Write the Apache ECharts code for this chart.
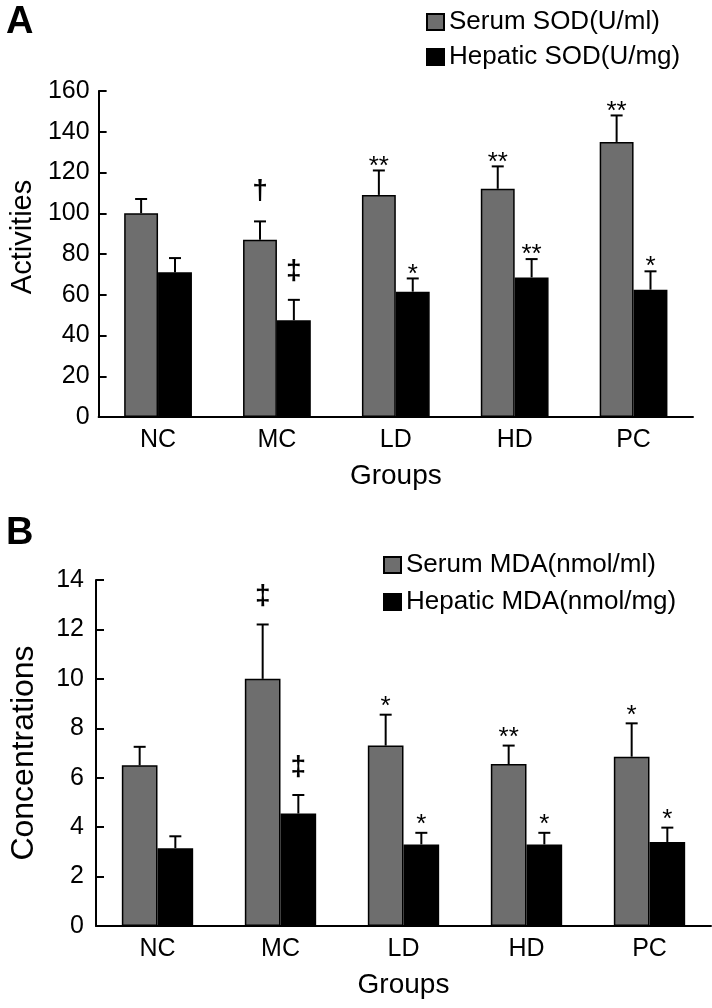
<!DOCTYPE html>
<html><head><meta charset="utf-8">
<script src="https://cdn.jsdelivr.net/npm/echarts@6/dist/echarts.min.js"></script>
<style>html,body{margin:0;padding:0;background:#fff}#c{width:712px;height:1008px}</style>
</head><body><div id="c"></div>
<script>
const groups = ['NC', 'MC', 'LD', 'HD', 'PC'];

const sodSerumName = 'Serum SOD(U/ml)';
const sodHepaticName = 'Hepatic SOD(U/mg)';
const sodSerum = [100, 87, 109, 112, 135];
const sodSerumSD = [7, 9, 12, 11, 13];
const sodHepatic = [71, 47.5, 61.5, 68.5, 62.5];
const sodHepaticSD = [7, 10, 6.5, 9, 9];
const sodSerumMarks = ['', '\u2020', '**', '**', '**'];
const sodHepaticMarks = ['', '\u2021', '*', '**', '*'];
const sodTicks = [0, 20, 40, 60, 80, 100, 120, 140, 160];

const mdaSerumName = 'Serum MDA(nmol/ml)';
const mdaHepaticName = 'Hepatic MDA(nmol/mg)';
const mdaSerum = [6.5, 10.0, 7.3, 6.55, 6.85];
const mdaSerumSD = [0.75, 2.2, 1.25, 0.75, 1.35];
const mdaHepatic = [3.15, 4.55, 3.3, 3.3, 3.4];
const mdaHepaticSD = [0.48, 0.75, 0.47, 0.47, 0.58];
const mdaSerumMarks = ['', '\u2021', '*', '**', '*'];
const mdaHepaticMarks = ['', '\u2021', '*', '*', '*'];
const mdaTicks = [0, 2, 4, 6, 8, 10, 12, 14];

const FONT = '"Liberation Sans", Arial, Helvetica, sans-serif';
const GRAY = '#6e6e6e';

function xAxisCfg(gridIndex) {
  return {
    type: 'category', gridIndex: gridIndex, data: groups,
    name: 'Groups', nameLocation: 'middle', nameGap: 45,
    nameTextStyle: { fontSize: 28, color: '#000', fontFamily: FONT },
    axisLine: { lineStyle: { color: '#000', width: 2 } },
    axisTick: { inside: true, length: 8, lineStyle: { color: '#000', width: 2 } },
    axisLabel: { fontSize: 25, color: '#000', fontFamily: FONT, margin: 11 },
    splitLine: { show: false }
  };
}
function yAxisCfg(gridIndex, ticks, name, gap, nameSize, labelMargin, pad) {
  return {
    type: 'value', gridIndex: gridIndex,
    min: ticks[0], max: ticks[ticks.length - 1], interval: ticks[1] - ticks[0],
    name: name, nameLocation: 'middle', nameGap: gap,
    nameTextStyle: { fontSize: nameSize, color: '#000', fontFamily: FONT, padding: pad },
    axisLine: { show: true, lineStyle: { color: '#000', width: 2 } },
    axisTick: { show: true, inside: true, length: 8, lineStyle: { color: '#000', width: 2 } },
    axisLabel: { fontSize: 25, color: '#000', fontFamily: FONT, margin: labelMargin },
    splitLine: { show: false }
  };
}
function barSeries(name, idx, data, color, gap) {
  return {
    name: name, type: 'bar', xAxisIndex: idx, yAxisIndex: idx, data: data,
    barGap: '0%', barCategoryGap: gap,
    itemStyle: { color: color, borderColor: '#000', borderWidth: 1.5 },
    silent: true, z: 2
  };
}
function errSeries(idx, means, sds, marks, side, gapRatio, starOff, daggerOff) {
  return {
    type: 'custom', xAxisIndex: idx, yAxisIndex: idx, z: 5, silent: true,
    data: means.map(function (m, i) { return [i, m, m + sds[i]]; }),
    encode: { x: 0, y: [1, 2] },
    renderItem: function (params, api) {
      const i = api.value(0), m = api.value(1), t = api.value(2);
      const band = api.size([1, 0])[0];
      const bw = band * (1 - gapRatio) / 2;
      const p0 = api.coord([i, m]);
      const p1 = api.coord([i, t]);
      const x = p0[0] + side * bw / 2;
      const children = [
        { type: 'line', shape: { x1: x, y1: p0[1], x2: x, y2: p1[1] }, style: { stroke: '#000', lineWidth: 2 } },
        { type: 'line', shape: { x1: x - 6, y1: p1[1], x2: x + 6, y2: p1[1] }, style: { stroke: '#000', lineWidth: 2 } }
      ];
      const mk = marks[params.dataIndex];
      if (mk) {
        const isStar = mk.indexOf('*') >= 0;
        children.push({
          type: 'text',
          style: {
            text: mk, x: x, y: p1[1] - (isStar ? starOff : daggerOff),
            align: 'center', verticalAlign: 'middle',
            font: (isStar ? '26px ' : 'bold 28px ') + FONT, fill: '#000'
          }
        });
      }
      return { type: 'group', children: children };
    }
  };
}

const chart = echarts.init(document.getElementById('c'), null, { renderer: 'canvas' });
chart.setOption({
  backgroundColor: '#fff',
  animation: false,
  textStyle: { fontFamily: FONT },
  graphic: [
    { type: 'text', left: 6, top: 4, style: { text: 'A', font: 'bold 38px ' + FONT, fill: '#000' } },
    { type: 'text', left: 6, top: 515, style: { text: 'B', font: 'bold 38px ' + FONT, fill: '#000' } }
  ],
  legend: [
    {
      orient: 'vertical', left: 421, top: 4, itemWidth: 17, itemHeight: 16, itemGap: 9, icon: 'rect',
      data: [sodSerumName, sodHepaticName], selectedMode: false,
      textStyle: { fontSize: 26, color: '#000', fontFamily: FONT, lineHeight: 25 }
    },
    {
      orient: 'vertical', left: 378, top: 547, itemWidth: 17, itemHeight: 16, itemGap: 11, icon: 'rect',
      data: [mdaSerumName, mdaHepaticName], selectedMode: false,
      textStyle: { fontSize: 26, color: '#000', fontFamily: FONT, lineHeight: 25 }
    }
  ],
  grid: [
    { left: 98, top: 91, width: 595, height: 326, containLabel: false },
    { left: 94, top: 580, width: 617, height: 346, containLabel: false }
  ],
  xAxis: [xAxisCfg(0), xAxisCfg(1)],
  yAxis: [
    yAxisCfg(0, sodTicks, 'Activities', 60, 29, 9, [0, 0, 0, 34]),
    yAxisCfg(1, mdaTicks, 'Concentrations', 56, 32, 12, [0, 0, 0, 0])
  ],
  series: [
    barSeries(sodSerumName, 0, sodSerum, GRAY, '43%'),
    barSeries(sodHepaticName, 0, sodHepatic, '#000', '43%'),
    barSeries(mdaSerumName, 1, mdaSerum, GRAY, '42%'),
    barSeries(mdaHepaticName, 1, mdaHepatic, '#000', '42%'),
    errSeries(0, sodSerum, sodSerumSD, sodSerumMarks, -1, 0.43, 4, 30),
    errSeries(0, sodHepatic, sodHepaticSD, sodHepaticMarks, 1, 0.43, 4, 29),
    errSeries(1, mdaSerum, mdaSerumSD, mdaSerumMarks, -1, 0.42, 8, 28),
    errSeries(1, mdaHepatic, mdaHepaticSD, mdaHepaticMarks, 1, 0.42, 8, 28)
  ]
});
</script>
</body></html>
